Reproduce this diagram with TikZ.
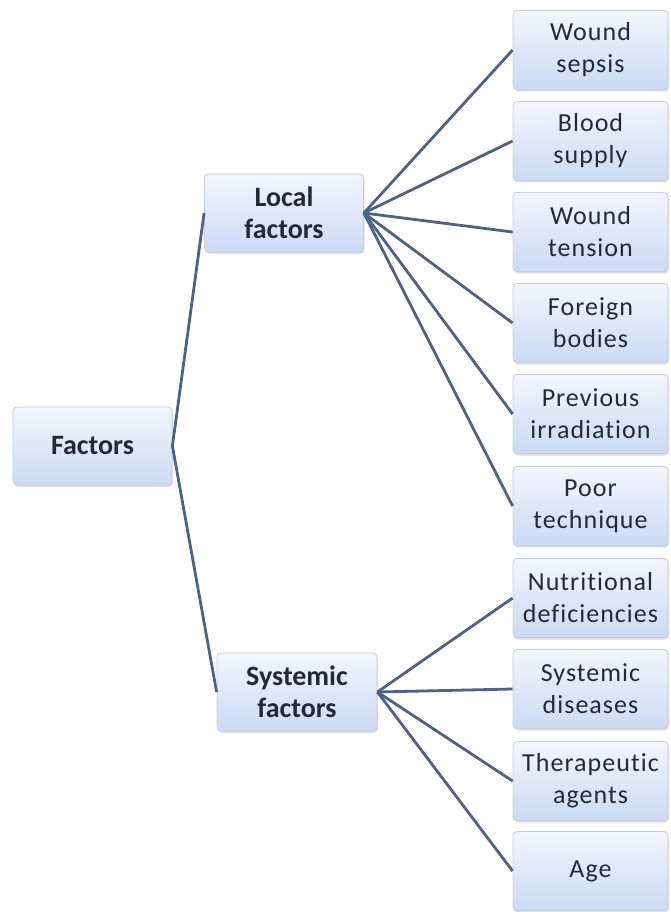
\documentclass[tikz,border=0pt]{standalone}
\usepackage{fontspec}
\setmainfont{Carlito}[Ligatures=NoCommon]
\newfontfamily\leaffont{Carlito}[Ligatures=NoCommon, LetterSpace=4]
\usetikzlibrary{shadows}
\definecolor{linkcol}{HTML}{4D6287}
\definecolor{boxtop}{HTML}{F2F5FD}
\definecolor{boxbot}{HTML}{CCDAF5}
\definecolor{boxedge}{HTML}{C9CED8}
\definecolor{txtcol}{HTML}{25283A}
\tikzset{
  box/.style={draw=boxedge, line width=0.8pt, rounded corners=4pt,
    top color=boxtop, bottom color=boxbot,
    drop shadow={shadow xshift=1pt, shadow yshift=-2pt, opacity=0.25, fill=gray},
    align=center, text=txtcol, inner sep=0pt},
  headbox/.style={box, minimum width=159pt, minimum height=78pt,
    font=\fontsize{28}{32}\selectfont\bfseries},
  leafbox/.style={box, minimum width=155pt, minimum height=79pt,
    font=\leaffont\fontsize{26}{32}\selectfont},
  link/.style={draw=linkcol, line width=2.8pt}
}
\begin{document}
\begin{tikzpicture}[x=1pt, y=-1pt]
\useasboundingbox (0,0) rectangle (671,912);

% main branches
\node[headbox] (root) at (92.5,446) {Factors};
\node[headbox] (local) at (284,213) {Local\\factors};
\node[headbox, minimum width=160pt] (sys) at (297,692) {Systemic\\factors};

% local factors
\node[leafbox] (l1) at (590.5,50)  {Wound\\sepsis};
\node[leafbox] (l2) at (590.5,141) {Blood\\supply};
\node[leafbox] (l3) at (590.5,232) {Wound\\tension};
\node[leafbox] (l4) at (590.5,323) {Foreign\\bodies};
\node[leafbox] (l5) at (590.5,414) {Previous\\irradiation};
\node[leafbox] (l6) at (590.5,506) {Poor\\technique};

% systemic factors
\node[leafbox] (s1) at (590.5,598) {Nutritional\\deficiencies};
\node[leafbox] (s2) at (590.5,689) {Systemic\\diseases};
\node[leafbox] (s3) at (590.5,781) {Therapeutic\\agents};
\node[leafbox] (s4) at (590.5,871) {Age};

% connectors
\draw[link] (local.west) -- (root.east) -- (sys.west);
\foreach \n in {l1,l2,l3,l4,l5,l6}
  \draw[link] (local.east) -- (\n.west);
\foreach \n in {s1,s2,s3,s4}
  \draw[link] (sys.east) -- (\n.west);
\end{tikzpicture}
\end{document}
